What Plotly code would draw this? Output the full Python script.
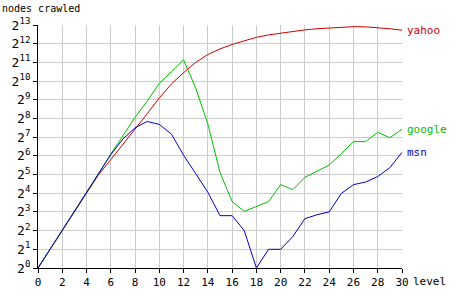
import plotly.graph_objects as go

levels = list(range(0, 31))

# log2 of nodes crawled, per level
yahoo_log2 = [0, 1, 2, 3, 4, 5.0, 5.8, 6.6, 7.45, 8.25, 9.1, 9.85, 10.45, 11.0, 11.42,
              11.72, 11.96, 12.17, 12.34, 12.47, 12.57, 12.66, 12.74, 12.8, 12.84,
              12.88, 12.91, 12.9, 12.86, 12.8, 12.72]
google_log2 = [0, 1, 2, 3, 4, 5.05, 6.1, 7.06, 8.06, 8.93, 9.88, 10.5, 11.14, 9.62, 7.7,
               5.11, 3.55, 3.03, 3.3, 3.55, 4.46, 4.19, 4.85, 5.18, 5.51, 6.12, 6.76,
               6.76, 7.26, 6.97, 7.42]
msn_log2 = [0, 1, 2, 3, 4, 5.05, 6.07, 6.9, 7.5, 7.84, 7.68, 7.16, 6.03, 5.05, 4.05,
            2.8, 2.8, 2.0, 0, 1, 1, 1.68, 2.64, 2.85, 3.0, 3.99, 4.46, 4.6, 4.89,
            5.37, 6.19]

series = [("yahoo", yahoo_log2, "#cc0000"),
          ("google", google_log2, "#00c000"),
          ("msn", msn_log2, "#0000cc")]

x_ticks = list(range(0, 31, 2))
y_ticks = list(range(0, 14))
y_ticktext = [f"2<sup>{n}</sup>" for n in y_ticks]

FONT = "DejaVu Sans Mono"

fig = go.Figure()
for name, vals, color in series:
    fig.add_trace(go.Scatter(x=levels, y=vals, mode="lines", name=name,
                             line=dict(color=color, width=1)))
    fig.add_annotation(x=levels[-1], y=vals[-1], xref="x", yref="y", text=name,
                       showarrow=False, xanchor="left", yanchor="middle", xshift=3,
                       font=dict(family=FONT, size=11, color=color))

fig.add_annotation(text="nodes crawled", xref="paper", yref="paper",
                   x=-38 / 364, y=1 + 25 / 250, xanchor="left", yanchor="top",
                   showarrow=False, font=dict(family=FONT, size=10, color="black"))
fig.add_annotation(text="level", xref="paper", yref="paper", x=1, y=0,
                   xanchor="left", yanchor="middle", xshift=9, yshift=-13,
                   showarrow=False, font=dict(family=FONT, size=11, color="black"))

fig.update_layout(
    width=457, height=301,
    margin=dict(l=38, r=55, t=25, b=26),
    paper_bgcolor="white", plot_bgcolor="white",
    showlegend=False,
    font=dict(family=FONT, size=11, color="black"),
    xaxis=dict(range=[0, 30], tickvals=x_ticks, ticks="outside", ticklen=4,
               tickcolor="black", showline=True, linecolor="black", linewidth=1,
               showgrid=True, gridcolor="#cccccc", gridwidth=1, zeroline=False,
               tickfont=dict(family=FONT, size=11)),
    yaxis=dict(range=[0, 13], tickvals=y_ticks, ticktext=y_ticktext,
               ticks="outside", ticklen=4, tickcolor="black", showline=True,
               linecolor="black", linewidth=1, showgrid=True, gridcolor="#cccccc",
               gridwidth=1, zeroline=False, tickfont=dict(family=FONT, size=13)),
)

fig.write_html("out.html")
